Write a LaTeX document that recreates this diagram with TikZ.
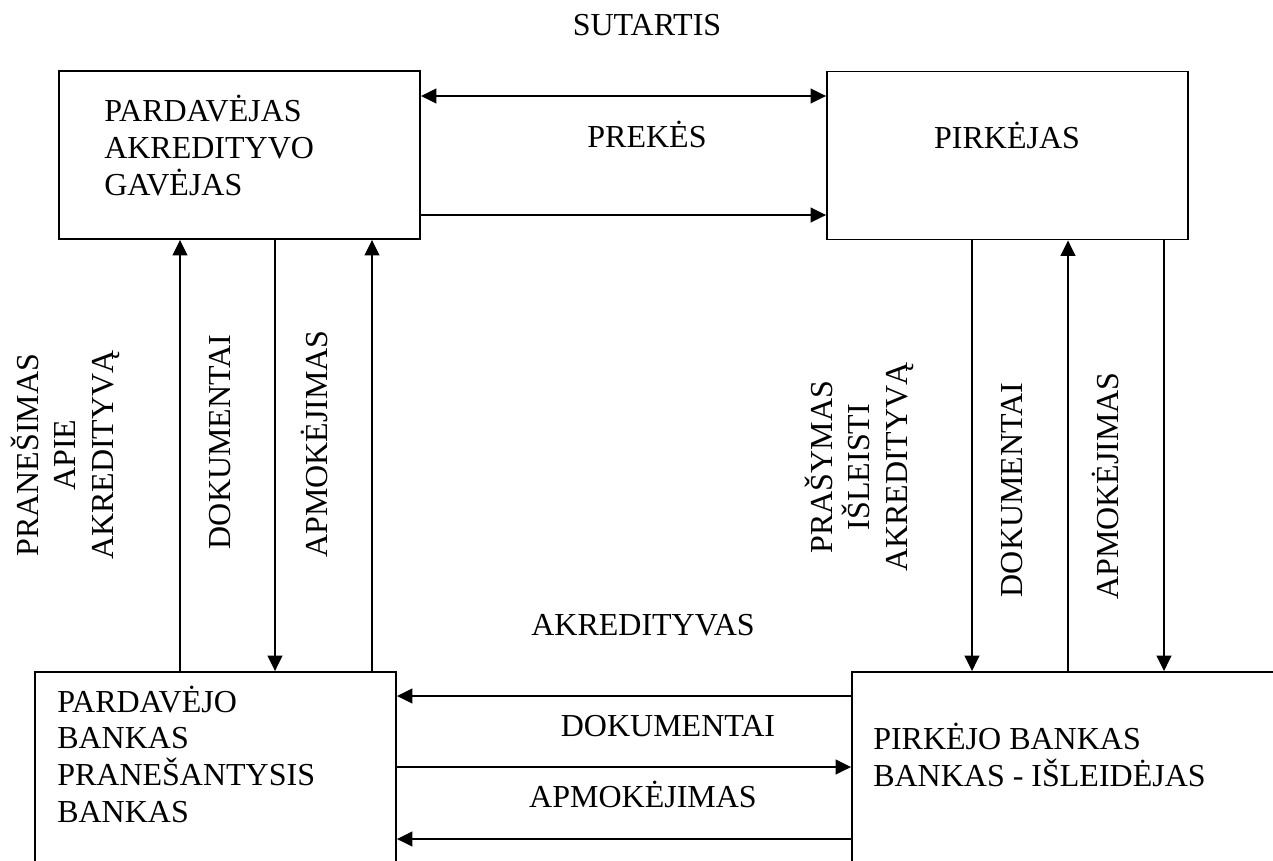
\documentclass[tikz,border=0pt]{standalone}
\usepackage{fontspec}
\setmainfont{Liberation Serif}
\usetikzlibrary{arrows.meta}
\begin{document}
\begin{tikzpicture}[x=0.75pt,y=-0.75pt,
  box/.style={draw, line width=1.4pt, rectangle, inner sep=0pt},
  txt/.style={font=\fontsize{24}{27.5}\selectfont, inner sep=0pt},
  vtxt/.style={txt, rotate=90, align=center, font=\fontsize{24}{28}\selectfont},
  conn/.style={line width=1.3pt, ->},
  >={Triangle[length=11.5pt,width=11pt]}]
\path[use as bounding box] (0,0) rectangle (1273,860);
\clip (0,0) rectangle (1273,860);

% parties and banks
\node[box, minimum width=270.75pt, minimum height=126pt] (seller) at (239.5,155) {};
\node[box, minimum width=270.75pt, minimum height=126pt] (buyer) at (1007.5,155.5) {};
\node[box, minimum width=270.75pt, minimum height=171pt] (sbank) at (215.5,786) {};
\node[box, minimum width=336pt, minimum height=171pt] (bbank) at (1076,786) {};

% box texts (base anchor sits on the last line)
\node[txt, anchor=base west, align=left] (sellertxt) at (104,195) {PARDAVĖJAS\\AKREDITYVO\\GAVĖJAS};
\node[txt, anchor=base] (buyertxt) at (1007,148) {PIRKĖJAS};
\node[txt, anchor=base west, align=left] (sbanktxt) at (57,822) {PARDAVĖJO\\BANKAS\\PRANEŠANTYSIS\\BANKAS};
\node[txt, anchor=base west, align=left] (bbanktxt) at (873,786) {PIRKĖJO BANKAS\\BANKAS - IŠLEIDĖJAS};

% columns and rows of the connectors
\coordinate (c1) at (180,0);
\coordinate (c2) at (275,0);
\coordinate (c3) at (372,0);
\coordinate (c4) at (972,0);
\coordinate (c5) at (1068,0);
\coordinate (c6) at (1164,0);
\coordinate (r1) at (0,96);
\coordinate (r2) at (0,215);
\coordinate (r3) at (0,696);
\coordinate (r4) at (0,767);
\coordinate (r5) at (0,839);

% seller side
\draw[conn] (sbank.north -| c1) -- (seller.south -| c1);
\draw[conn] (seller.south -| c2) -- (sbank.north -| c2);
\draw[conn] (sbank.north -| c3) -- (seller.south -| c3);
% buyer side
\draw[conn] (buyer.south -| c4) -- (bbank.north -| c4);
\draw[conn] (bbank.north -| c5) -- (buyer.south -| c5);
\draw[conn] (buyer.south -| c6) -- (bbank.north -| c6);
% between the parties
\draw[conn, <->] (seller.east |- r1) -- (buyer.west |- r1);
\draw[conn] (seller.east |- r2) -- (buyer.west |- r2);
% between the banks
\draw[conn] (bbank.west |- r3) -- (sbank.east |- r3);
\draw[conn] (sbank.east |- r4) -- (bbank.west |- r4);
\draw[conn] (bbank.west |- r5) -- (sbank.east |- r5);

% flow labels
\node[txt, anchor=base] (contract) at (647,35) {SUTARTIS};
\node[txt, anchor=base] (goods) at (647,147) {PREKĖS};
\node[txt, anchor=base] (credit) at (643,635) {AKREDITYVAS};
\node[txt, anchor=base] (docsb) at (668,736) {DOKUMENTAI};
\node[txt, anchor=base] (payb) at (643,807) {APMOKĖJIMAS};

\node[vtxt, anchor=base] (notice) at (113,455) {PRANEŠIMAS\\APIE\\AKREDITYVĄ};
\node[vtxt, anchor=base] (docsl) at (230,442) {DOKUMENTAI};
\node[vtxt, anchor=base] (payl) at (327,444) {APMOKĖJIMAS};
\node[vtxt, anchor=base] (request) at (907,467) {PRAŠYMAS\\IŠLEISTI\\AKREDITYVĄ};
\node[vtxt, anchor=base] (docsr) at (1022,490) {DOKUMENTAI};
\node[vtxt, anchor=base] (payr) at (1118,486) {APMOKĖJIMAS};
\end{tikzpicture}
\end{document}
